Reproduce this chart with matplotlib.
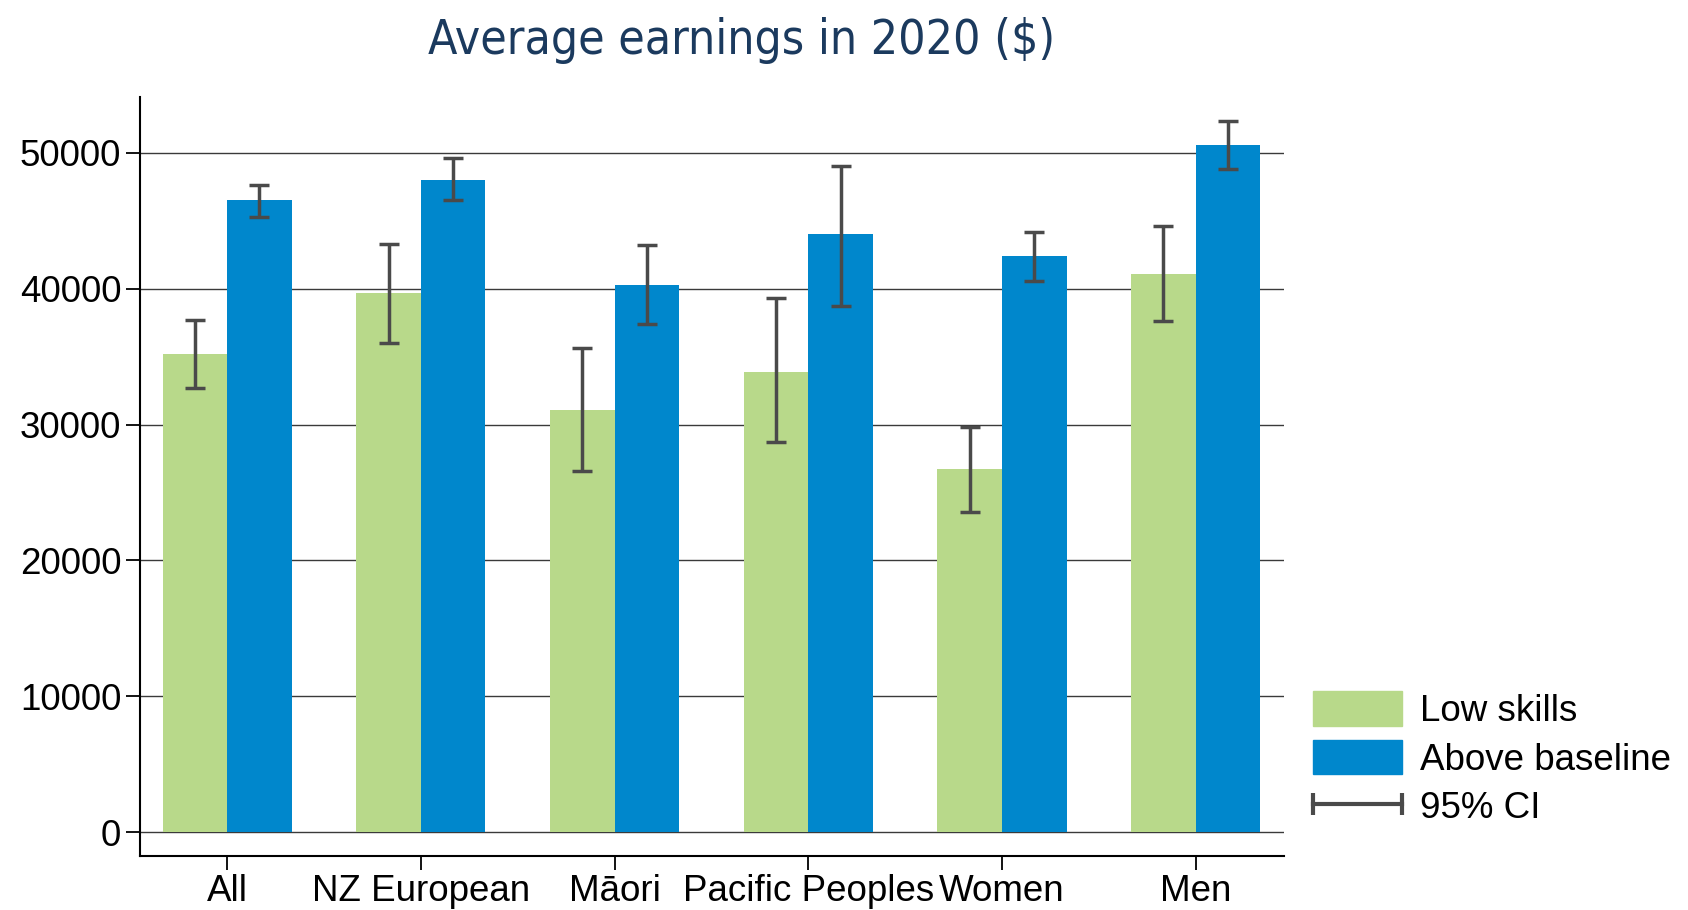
import matplotlib.pyplot as plt
import numpy as np
from matplotlib.patches import Patch
from matplotlib.lines import Line2D
from matplotlib.legend_handler import HandlerLine2D

groups = ["All", "NZ European", "M\u0101ori", "Pacific Peoples", "Women", "Men"]
low_skills = [35200, 39700, 31100, 33900, 26700, 41100]
above_base = [46500, 48000, 40300, 44000, 42400, 50550]
low_ci_lo = [32700, 36000, 26550, 28700, 23600, 37650]
low_ci_hi = [37700, 43250, 35650, 39300, 29800, 44600]
above_ci_lo = [45250, 46500, 37400, 38750, 40550, 48800]
above_ci_hi = [47600, 49600, 43200, 49050, 44200, 52300]
yticks = [0, 10000, 20000, 30000, 40000, 50000]

green = "#b8d98a"
blue = "#0087cc"
ci_col = "#4a4a4a"

plt.rcParams['font.family'] = ['Liberation Sans', 'DejaVu Sans']

fig = plt.figure(figsize=(16.88, 9.10), dpi=100)
ax = fig.add_axes([0.0829, 0.0593, 0.6777, 0.8341])

x = np.arange(len(groups))
w = 1 / 3
low = np.array(low_skills)
high = np.array(above_base)

ax.bar(x - w / 2, low, w, color=green, zorder=2)
ax.bar(x + w / 2, high, w, color=blue, zorder=2)
ax.errorbar(x - w / 2, low,
            yerr=[low - np.array(low_ci_lo), np.array(low_ci_hi) - low],
            fmt='none', ecolor=ci_col, elinewidth=2.5, capsize=7.5, capthick=2.5, zorder=3)
ax.errorbar(x + w / 2, high,
            yerr=[high - np.array(above_ci_lo), np.array(above_ci_hi) - high],
            fmt='none', ecolor=ci_col, elinewidth=2.5, capsize=7.5, capthick=2.5, zorder=3)

ax.set_xlim(-0.45, 5.455)
ax.set_ylim(-1750, 54100)
ax.set_yticks(yticks)
ax.set_xticks(x)
ax.set_xticklabels(groups)
ax.yaxis.grid(True, color="#3a3a3a", linewidth=1.0, zorder=0)
ax.set_axisbelow(True)
for s in ["top", "right"]:
    ax.spines[s].set_visible(False)
ax.spines["left"].set_linewidth(1.5)
ax.spines["bottom"].set_linewidth(1.5)
ax.tick_params(axis='both', labelsize=26.5, length=10, width=1.3, direction='out')
ax.tick_params(axis='x', pad=3)

handles = [Patch(color=green), Patch(color=blue),
           Line2D([0], [0], color=ci_col, lw=3, marker='|', markersize=16, markeredgewidth=3)]
fig.legend(handles, ["Low skills", "Above baseline", "95% CI"],
           loc='center left', bbox_to_anchor=(0.778, 0.166), frameon=False,
           fontsize=26.5, handlelength=2.4, handleheight=1.05, handletextpad=0.5,
           labelspacing=0.3, borderpad=0, borderaxespad=0, numpoints=2,
           handler_map={Line2D: HandlerLine2D(marker_pad=0)})

fig.text(0.4396, 1 - 40 / 910, "Average earnings in 2020 ($)", ha='center', va='center',
         fontsize=34.5, color="#1b3a5e", family='DejaVu Sans', fontstretch='condensed')

fig.savefig("out.png", dpi=100)
